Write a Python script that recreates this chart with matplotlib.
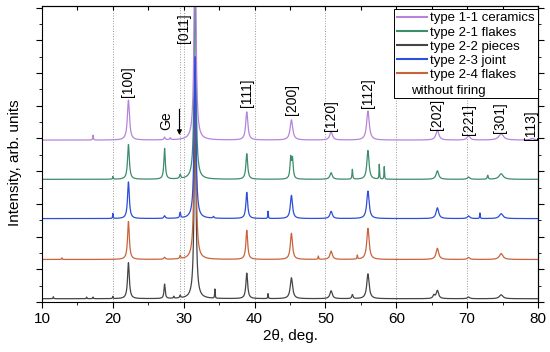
import numpy as np
import matplotlib
matplotlib.use("Agg")
import matplotlib.pyplot as plt
from matplotlib.lines import Line2D

plt.rcParams['font.family'] = ['Liberation Sans', 'DejaVu Sans']

# --- donnees (2theta, hauteur, demi-largeur) ---
labels = ["type 1-1 ceramics", "type 2-1 flakes", "type 2-2 pieces",
          "type 2-3 joint", "type 2-4 flakes"]
colors = ["#b585dd", "#3d8c6c", "#454545", "#2c4ed8", "#c8643c"]
baselines = [4.95, 3.75, 0.10, 2.55, 1.30]

pos_purple = [17.2, 22.2, 27.3, 28.1, 31.6, 38.9, 45.2, 50.8, 56.0, 65.8, 70.2, 74.8, 79.2]
h_purple = [0.15, 1.22, 0.08, 0.06, 7.0, 0.86, 0.62, 0.26, 0.89, 0.30, 0.13, 0.19, 0.05]
w_purple = [0.05, 0.18, 0.1, 0.08, 0.15, 0.18, 0.22, 0.22, 0.22, 0.25, 0.25, 0.4, 0.3]

pos_green = [20.0, 22.2, 27.3, 29.5, 31.6, 38.9, 45.1, 45.35, 50.8, 53.8, 56.0, 57.6, 58.3, 65.8, 70.2, 72.9, 74.8]
h_green = [0.08, 1.06, 0.94, 0.12, 6.0, 0.78, 0.62, 0.58, 0.20, 0.30, 0.88, 0.45, 0.38, 0.26, 0.07, 0.12, 0.17]
w_green = [0.05, 0.15, 0.12, 0.1, 0.15, 0.15, 0.12, 0.12, 0.2, 0.06, 0.18, 0.04, 0.04, 0.22, 0.2, 0.08, 0.35]

pos_black = [11.6, 16.3, 17.2, 20.0, 22.2, 27.3, 28.6, 29.5, 31.6, 34.4, 38.9, 41.9, 45.2, 50.8, 53.8, 56.0, 65.3, 65.8, 70.2, 74.8]
h_black = [0.06, 0.05, 0.05, 0.07, 1.10, 0.44, 0.06, 0.08, 6.0, 0.28, 0.78, 0.15, 0.64, 0.24, 0.12, 0.76, 0.10, 0.25, 0.05, 0.12]
w_black = [0.05, 0.05, 0.05, 0.05, 0.15, 0.1, 0.06, 0.08, 0.15, 0.04, 0.15, 0.04, 0.2, 0.2, 0.1, 0.2, 0.15, 0.2, 0.2, 0.3]

pos_blue = [20.0, 22.2, 27.3, 29.5, 31.6, 34.2, 38.9, 41.9, 45.2, 50.8, 56.0, 65.8, 70.2, 71.8, 74.8]
h_blue = [0.15, 1.12, 0.08, 0.17, 4.95, 0.05, 0.80, 0.22, 0.71, 0.22, 0.84, 0.33, 0.08, 0.17, 0.15]
w_blue = [0.04, 0.15, 0.12, 0.08, 0.15, 0.1, 0.15, 0.04, 0.18, 0.2, 0.2, 0.22, 0.2, 0.04, 0.3]

pos_red = [12.8, 22.2, 27.3, 29.5, 31.6, 38.9, 45.2, 49.0, 50.8, 54.5, 56.0, 65.8, 70.2, 74.8]
h_red = [0.05, 1.16, 0.06, 0.10, 6.0, 0.89, 0.80, 0.10, 0.25, 0.12, 0.95, 0.34, 0.06, 0.18]
w_red = [0.05, 0.15, 0.12, 0.08, 0.15, 0.15, 0.18, 0.05, 0.2, 0.05, 0.2, 0.22, 0.2, 0.3]

peaks = [(pos_purple, h_purple, w_purple), (pos_green, h_green, w_green),
         (pos_black, h_black, w_black), (pos_blue, h_blue, w_blue),
         (pos_red, h_red, w_red)]

hkl = ["[100]", "[011]", "[111]", "[200]", "[120]", "[112]", "[202]", "[221]", "[301]", "[113]"]
hkl_x = [22.2, 30.0, 38.9, 45.3, 50.8, 56.05, 65.8, 70.2, 74.7, 79.0]
hkl_y = [6.27, 7.92, 5.96, 5.72, 5.23, 5.93, 5.26, 5.11, 5.17, 4.95]

x = np.arange(10, 80.01, 0.02)

fig = plt.figure(figsize=(5.5, 3.52), dpi=100)
ax = fig.add_axes([42 / 550, 50 / 352, 496 / 550, 296 / 352])

for xv in [20, 29.5, 30, 40, 50, 60, 70]:
    ax.axvline(xv, color='#999999', lw=0.7, ls=':', zorder=0)

courbes = {}
for i, (p, h, w) in enumerate(peaks):
    y = np.full_like(x, baselines[i])
    for pk, hk, wk in zip(p, h, w):
        y += hk / (1 + ((x - pk) / wk) ** 2)
    courbes[i] = y

# ordre de trace : noir, rouge, vert, bleu, violet
for rang, i in enumerate([2, 4, 1, 3, 0]):
    ax.plot(x, courbes[i], color=colors[i], lw=0.9, label=labels[i], zorder=2 + rang * 0.1)

for t, xx, yy in zip(hkl, hkl_x, hkl_y):
    ax.text(xx, yy, t, rotation=90, ha='center', va='bottom', fontsize=10)

ax.text(27.5, 5.26, "Ge", rotation=90, ha='center', va='bottom', fontsize=10)
ax.annotate("", xy=(29.4, 5.02), xytext=(29.4, 5.98),
            arrowprops=dict(arrowstyle='-|>', color='black', lw=0.8, mutation_scale=7))

ax.set_xlim(10, 80)
ax.set_ylim(0, 9.05)
ax.set_xticks(range(10, 81, 10))
ax.set_xticks(range(15, 80, 10), minor=True)
ax.set_yticks(range(0, 10))
ax.set_yticks(np.arange(0.5, 9, 1), minor=True)
ax.set_yticklabels([])
ax.tick_params(which='both', direction='out', labelsize=11)
ax.tick_params(which='major', length=4)
ax.tick_params(which='minor', length=2.5)

top = ax.secondary_xaxis('top')
top.set_xticks(range(10, 81, 5))
top.tick_params(direction='in', length=3, labeltop=False)
right = ax.secondary_yaxis('right')
right.set_yticks(range(0, 10))
right.set_yticks(np.arange(0.5, 9, 1), minor=True)
right.tick_params(which='both', direction='out', labelright=False)
right.tick_params(which='major', length=4)
right.tick_params(which='minor', length=2.5)

ax.set_xlabel("2θ, deg.", fontsize=11, labelpad=2)
ax.set_ylabel("Intensity, arb. units", fontsize=11)
ax.yaxis.set_label_coords(-0.04, 0.47)

handles = [Line2D([], [], color=c, lw=1.5) for c in colors]
handles.append(Line2D([], [], color='none'))
leg = ax.legend(handles, labels + [" "], loc='upper right', bbox_to_anchor=(1.0, 0.99),
                borderaxespad=0, fontsize=9.5, handlelength=2.3, handletextpad=0.2,
                labelspacing=0.14, fancybox=False, framealpha=1, edgecolor='black',
                borderpad=0.25)
leg.get_frame().set_linewidth(0.7)
leg.set_zorder(5)
ax.text(0.744, 0.713, "without firing", transform=ax.transAxes, fontsize=9.5,
        va='center', ha='left', zorder=6)

fig.savefig("out.png", dpi=100)
